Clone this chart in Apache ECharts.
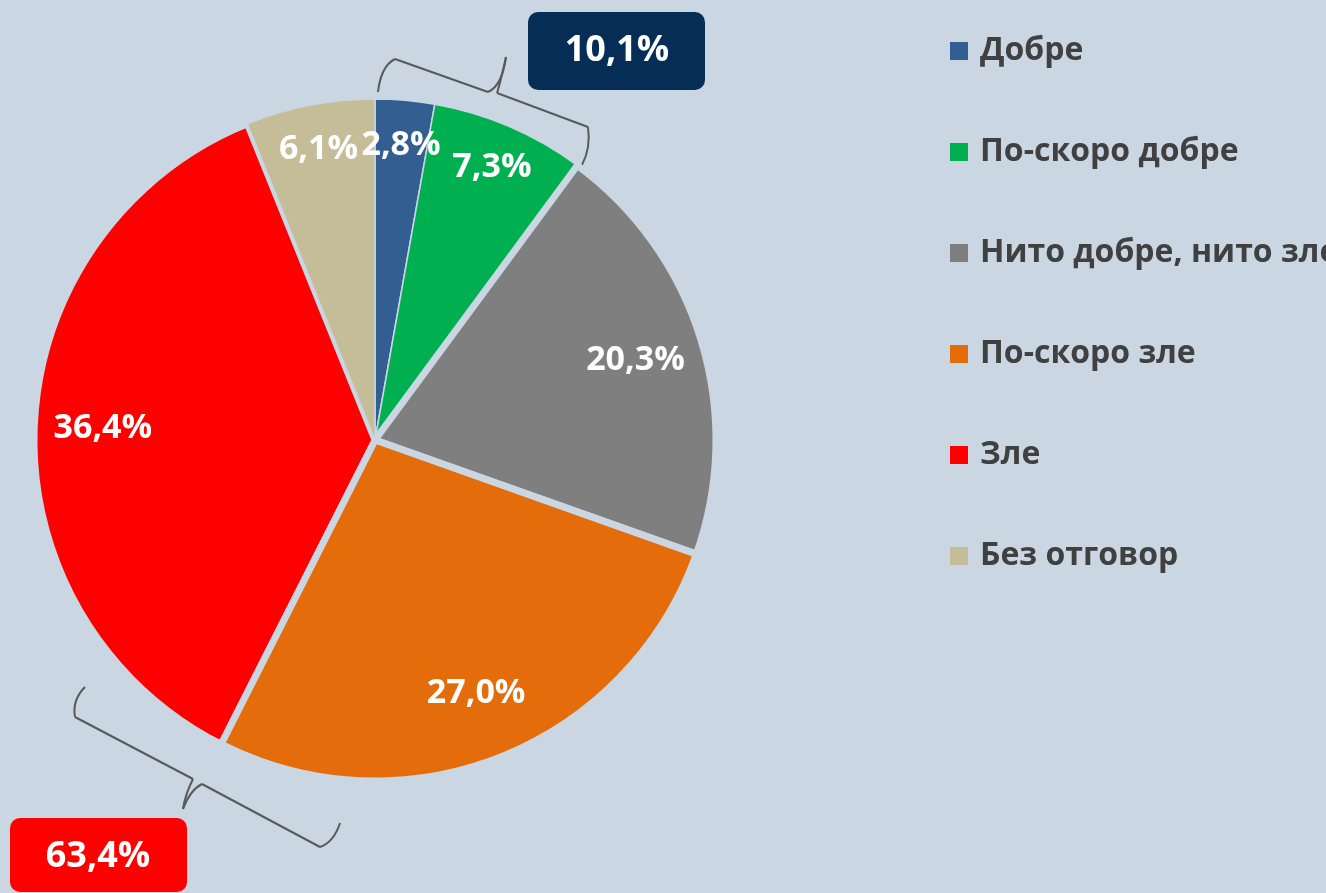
<!DOCTYPE html>
<html>
<head>
<meta charset="utf-8">
<script src="https://cdn.jsdelivr.net/npm/echarts@6/dist/echarts.min.js"></script>
<style>
  html, body { margin: 0; padding: 0; background: #CAD6E2; }
  #chart { width: 1326px; height: 893px; }
</style>
</head>
<body>
<div id="chart"></div>
<script>
// данни
const categories = ['Добре', 'По-скоро добре', 'Нито добре, нито зле', 'По-скоро зле', 'Зле', 'Без отговор']
const values = [2.8, 7.3, 20.3, 27.0, 36.4, 6.1]
const colors = ['#335E91', '#00B050', '#7F7F7F', '#E46C0A', '#FF0000', '#C4BD97']
const gaps = [1.5, 1.5, 7, 7, 7, 1.5]
const topGroupLabel = '10,1%'
const bottomGroupLabel = '63,4%'

const BG = '#CAD6E2'
const FONT = '"Open Sans", "Noto Sans", sans-serif'
const cx = 375, cy = 440, R = 341

const fmt = v => v.toFixed(1).replace('.', ',') + '%'

// фигурна скоба: сегменти, c = контролна точка за кривите
function brace(segs) {
  const st = { stroke: '#595959', lineWidth: 2, fill: 'none' }
  return {
    type: 'group',
    children: segs.map(s => s.c
      ? { type: 'bezierCurve', shape: { x1: s.a[0], y1: s.a[1], x2: s.b[0], y2: s.b[1], cpx1: s.c[0], cpy1: s.c[1] }, style: st }
      : { type: 'line', shape: { x1: s.a[0], y1: s.a[1], x2: s.b[0], y2: s.b[1] }, style: st })
  }
}

// прозрачен слой само за етикетите; малките дялове са по-близо до ръба
function labelLayer(ratio, pick) {
  return {
    type: 'pie',
    center: [cx, cy],
    radius: [0, R * ratio * 2],
    startAngle: 90,
    clockwise: true,
    silent: true,
    itemStyle: { color: 'rgba(0,0,0,0)', borderWidth: 0 },
    label: {
      position: 'inside',
      formatter: p => fmt(p.value),
      fontFamily: FONT,
      fontSize: 34,
      fontWeight: 'bold',
      color: '#fff'
    },
    labelLine: { show: false },
    data: categories.map((name, i) => ({ name: name, value: values[i], label: { show: pick(values[i]) } }))
  }
}

const slices = categories.map((name, i) => ({
  name: name,
  value: values[i],
  itemStyle: { color: colors[i], borderColor: BG, borderWidth: gaps[i] }
}))

const chart = echarts.init(document.getElementById('chart'))
chart.setOption({
  backgroundColor: BG,
  animation: false,
  legend: {
    orient: 'vertical',
    left: 943,
    top: 29,
    itemWidth: 20,
    itemHeight: 20,
    itemGap: 67,
    icon: 'rect',
    textStyle: { fontFamily: FONT, fontSize: 32, fontWeight: 'bold', color: '#404040', lineHeight: 34, padding: [0, 0, 0, 6] },
    data: categories
  },
  series: [
    {
      type: 'pie',
      center: [cx, cy],
      radius: [0, R],
      startAngle: 90,
      clockwise: true,
      label: { show: false },
      labelLine: { show: false },
      silent: true,
      data: slices
    },
    labelLayer(0.79, v => v >= 10),
    labelLayer(0.86, v => v < 10)
  ],
  graphic: [
    brace([
      { a: [378, 92], b: [395, 59], c: [381, 66] },
      { a: [395, 59], b: [488, 92] },
      { a: [488, 92], b: [506, 57], c: [502, 86] },
      { a: [506, 57], b: [497, 93], c: [500, 84] },
      { a: [497, 93], b: [588, 127] },
      { a: [588, 127], b: [582, 165], c: [591, 148] }
    ]),
    brace([
      { a: [85, 687], b: [75, 717], c: [72, 700] },
      { a: [75, 717], b: [193, 779] },
      { a: [193, 779], b: [183, 809], c: [185, 795] },
      { a: [183, 809], b: [202, 784], c: [190, 790] },
      { a: [202, 784], b: [320, 847] },
      { a: [320, 847], b: [340, 823], c: [334, 842] }
    ]),
    {
      type: 'rect',
      shape: { x: 528, y: 12, width: 177, height: 78, r: 10 },
      style: { fill: '#062D56' }
    },
    {
      type: 'text',
      x: 617, y: 51,
      style: { text: topGroupLabel, fill: '#fff', font: 'bold 36px ' + FONT, align: 'center', verticalAlign: 'middle' }
    },
    {
      type: 'rect',
      shape: { x: 10, y: 818, width: 177, height: 74, r: 10 },
      style: { fill: '#FF0000' }
    },
    {
      type: 'text',
      x: 98, y: 857,
      style: { text: bottomGroupLabel, fill: '#fff', font: 'bold 36px ' + FONT, align: 'center', verticalAlign: 'middle' }
    }
  ]
})
</script>
</body>
</html>
